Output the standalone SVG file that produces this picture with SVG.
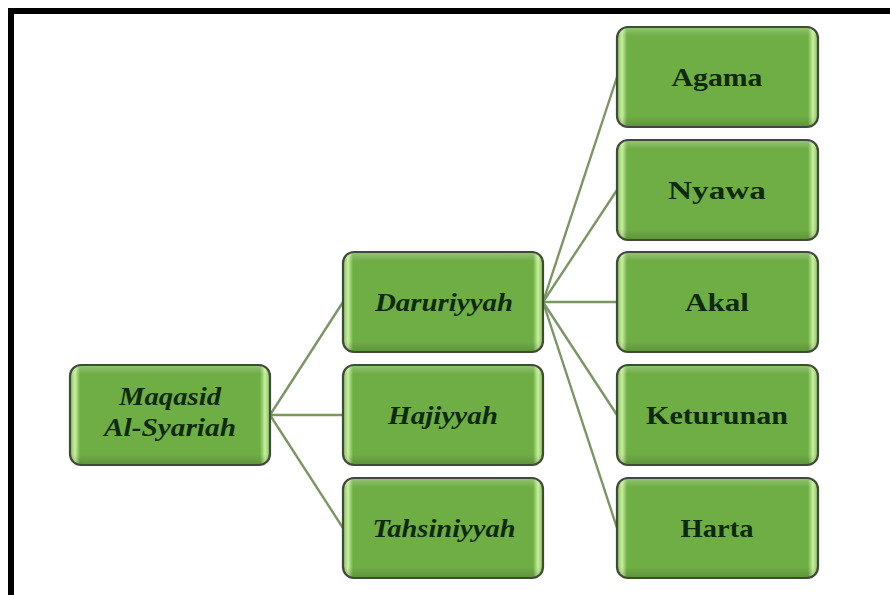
<svg xmlns="http://www.w3.org/2000/svg" width="890" height="595" viewBox="0 0 890 595">
<defs>
<linearGradient id="gh" x1="0" y1="0" x2="1" y2="0">
<stop offset="0" stop-color="#7fbd55"/>
<stop offset="0.025" stop-color="#c9f0a0"/>
<stop offset="0.05" stop-color="#6fae45"/>
<stop offset="0.95" stop-color="#6fae45"/>
<stop offset="0.975" stop-color="#c9f0a0"/>
<stop offset="1" stop-color="#7fbd55"/>
</linearGradient>
<linearGradient id="gv" x1="0" y1="0" x2="0" y2="1">
<stop offset="0" stop-color="#ffffff" stop-opacity="0.25"/>
<stop offset="0.08" stop-color="#ffffff" stop-opacity="0"/>
<stop offset="0.9" stop-color="#000000" stop-opacity="0"/>
<stop offset="1" stop-color="#000000" stop-opacity="0.15"/>
</linearGradient>
</defs>
<style>
.box{fill:url(#gh);stroke:#3f4a38;stroke-width:2.2}
.shade{fill:url(#gv);stroke:none}
.t{font-family:"Liberation Serif","Times New Roman",serif;font-weight:bold;font-size:26px;fill:#0e2a0e;text-anchor:middle}
.s{font-size:25px}
.i{font-style:italic}
.c{stroke:#7b9563;stroke-width:2.4;fill:none}
</style>
<rect width="890" height="595" fill="#ffffff"/>
<path d="M11,595 V11 H890" fill="none" stroke="#000" stroke-width="6"/>
<g id="connectors">
<line class="c" x1="270" y1="415" x2="343" y2="302"/>
<line class="c" x1="270" y1="415" x2="343" y2="415"/>
<line class="c" x1="270" y1="415" x2="343" y2="528"/>
<line class="c" x1="543" y1="302" x2="617" y2="77"/>
<line class="c" x1="543" y1="302" x2="617" y2="190"/>
<line class="c" x1="543" y1="302" x2="617" y2="302"/>
<line class="c" x1="543" y1="302" x2="617" y2="415"/>
<line class="c" x1="543" y1="302" x2="617" y2="528"/>
</g>
<g id="maqasid">
<rect class="box" x="70" y="365" width="200" height="100" rx="11"/>
<rect class="shade" x="71" y="366" width="198" height="98" rx="10"/>
<text class="t i s" x="170" y="405" textLength="102" lengthAdjust="spacingAndGlyphs">Maqasid</text>
<text class="t i s" x="170" y="436" textLength="132" lengthAdjust="spacingAndGlyphs">Al-Syariah</text>
</g>
<g id="daruriyyah">
<rect class="box" x="343" y="252" width="200" height="100" rx="11"/>
<rect class="shade" x="344" y="253" width="198" height="98" rx="10"/>
<text class="t i" x="444" y="311" textLength="138" lengthAdjust="spacingAndGlyphs">Daruriyyah</text>
</g>
<g id="hajiyyah">
<rect class="box" x="343" y="365" width="200" height="100" rx="11"/>
<rect class="shade" x="344" y="366" width="198" height="98" rx="10"/>
<text class="t i" x="443" y="424" textLength="110" lengthAdjust="spacingAndGlyphs">Hajiyyah</text>
</g>
<g id="tahsiniyyah">
<rect class="box" x="343" y="478" width="200" height="100" rx="11"/>
<rect class="shade" x="344" y="479" width="198" height="98" rx="10"/>
<text class="t i" x="444" y="537" textLength="143" lengthAdjust="spacingAndGlyphs">Tahsiniyyah</text>
</g>
<g id="agama">
<rect class="box" x="617" y="27" width="201" height="100" rx="11"/>
<rect class="shade" x="618" y="28" width="199" height="98" rx="10"/>
<text class="t" x="717" y="86" textLength="91" lengthAdjust="spacingAndGlyphs">Agama</text>
</g>
<g id="nyawa">
<rect class="box" x="617" y="140" width="201" height="100" rx="11"/>
<rect class="shade" x="618" y="141" width="199" height="98" rx="10"/>
<text class="t" x="717" y="199" textLength="98" lengthAdjust="spacingAndGlyphs">Nyawa</text>
</g>
<g id="akal">
<rect class="box" x="617" y="252" width="201" height="100" rx="11"/>
<rect class="shade" x="618" y="253" width="199" height="98" rx="10"/>
<text class="t" x="717" y="311" textLength="64" lengthAdjust="spacingAndGlyphs">Akal</text>
</g>
<g id="keturunan">
<rect class="box" x="617" y="365" width="201" height="100" rx="11"/>
<rect class="shade" x="618" y="366" width="199" height="98" rx="10"/>
<text class="t" x="717" y="424" textLength="142" lengthAdjust="spacingAndGlyphs">Keturunan</text>
</g>
<g id="harta">
<rect class="box" x="617" y="478" width="201" height="100" rx="11"/>
<rect class="shade" x="618" y="479" width="199" height="98" rx="10"/>
<text class="t" x="717" y="537" textLength="73" lengthAdjust="spacingAndGlyphs">Harta</text>
</g>
</svg>
